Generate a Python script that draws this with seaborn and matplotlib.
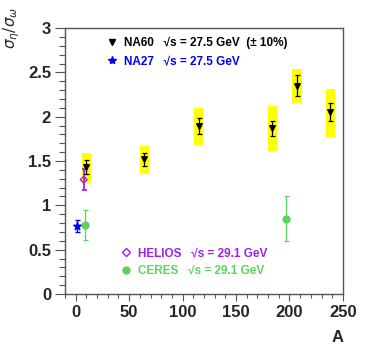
import numpy as np
import pandas as pd
import seaborn as sns
import matplotlib
matplotlib.use("Agg")
import matplotlib.pyplot as plt
from matplotlib.lines import Line2D
from matplotlib.ticker import MultipleLocator

sns.set_style("white")
plt.rcParams['font.family'] = ['Liberation Sans', 'DejaVu Sans']

# ---- data ----
na60_A = [10, 64, 115, 184, 207, 238]
na60_val = [1.43, 1.52, 1.90, 1.87, 2.35, 2.05]
na60_err = [0.08, 0.075, 0.09, 0.085, 0.12, 0.10]
na60_sys_lo = [1.25, 1.35, 1.68, 1.61, 2.15, 1.77]
na60_sys_hi = [1.59, 1.67, 2.10, 2.12, 2.54, 2.31]

na27_A = [1]
na27_val = [0.77]
na27_err = [0.07]

helios_A = [7.5]
helios_val = [1.29]
helios_err = [0.12]

ceres_A = [9, 197]
ceres_val = [0.78, 0.85]
ceres_err = [0.17, 0.25]

xticks = [0, 50, 100, 150, 200, 250]
yticks = [0, 0.5, 1, 1.5, 2, 2.5, 3]

c_na60 = 'black'
c_na27 = '#0000ff'
c_helios = '#a020f0'
c_ceres = '#5cd35c'
c_sys = '#ffff00'

fig = plt.figure(figsize=(3.66, 3.51), dpi=100)
ax = fig.add_axes([0.1776, 0.1624, 0.937 - 0.1776, 0.920 - 0.1624])

# systematic boxes
df_sys = pd.DataFrame({'A': na60_A, 'lo': na60_sys_lo, 'hi': na60_sys_hi})
ax.bar(df_sys['A'], df_sys['hi'] - df_sys['lo'], bottom=df_sys['lo'],
       width=8.5, color=c_sys, edgecolor='none', zorder=1)

def draw(A, v, e, color, marker, ms, mfc, zorder=3, lw=1.0):
    df = pd.DataFrame({'A': A, 'v': v})
    ax.errorbar(A, v, yerr=e, fmt='none', ecolor=color, elinewidth=lw,
                capsize=1.8, capthick=lw, zorder=zorder)
    sns.scatterplot(data=df, x='A', y='v', ax=ax, marker=marker, s=ms,
                    color=mfc, edgecolor=color, linewidth=1.0, zorder=zorder + 1,
                    legend=False)

draw(ceres_A, ceres_val, ceres_err, c_ceres, 'o', 24, c_ceres, lw=0.9)
draw(helios_A, helios_val, helios_err, c_helios, 'D', 12, 'none', lw=1.3)
draw(na27_A, na27_val, na27_err, c_na27, '*', 32, c_na27, lw=1.0)
draw(na60_A, na60_val, na60_err, c_na60, 'v', 16, c_na60, lw=0.9)

ax.set_xlim(-10, 250)
ax.set_ylim(0, 3)
ax.set_xticks(xticks)
ax.set_yticks(yticks)
ax.set_yticklabels(['0', '0.5', '1', '1.5', '2', '2.5', '3'])
ax.xaxis.set_minor_locator(MultipleLocator(10))
ax.yaxis.set_minor_locator(MultipleLocator(0.1))
ax.tick_params(axis='both', which='both', bottom=True, left=True,
               top=False, right=False)
ax.tick_params(axis='both', which='major', direction='out', length=7, width=0.8,
               color='#555555', labelsize=12, pad=3)
ax.tick_params(axis='both', which='minor', direction='out', length=4, width=0.8,
               color='#555555')
ax.tick_params(axis='x', which='major', length=5)
ax.tick_params(axis='x', which='minor', length=3)
for lab in ax.get_xticklabels() + ax.get_yticklabels():
    lab.set_fontweight('bold')
for s in ax.spines.values():
    s.set_color('#555555')
    s.set_linewidth(1.0)
ax.set_xlabel('')
ax.set_ylabel('')

fig.text(337.7 / 366, 1 - 337 / 351, 'A', fontsize=12, fontweight='bold',
         ha='center', va='center')
fig.text(12 / 366, 1 - 7 / 351, r'$\sigma_{\eta}/\sigma_{\omega}$', fontsize=11,
         rotation=90, ha='center', va='top')

h1 = [Line2D([], [], ls='none', marker='v', color=c_na60, ms=5),
      Line2D([], [], ls='none', marker='*', color=c_na27, ms=6)]
l1 = ['NA60   \u221as = 27.5 GeV  (\u00b1 10%)', 'NA27   \u221as = 27.5 GeV']
leg1 = ax.legend(h1, l1, loc='upper left', bbox_to_anchor=(0.147, 0.966),
                 frameon=False, borderpad=0, borderaxespad=0, handlelength=1.0,
                 handletextpad=0.55, labelspacing=0.5,
                 prop={'size': 8.5, 'weight': 'bold'},
                 labelcolor=[c_na60, c_na27])
ax.add_artist(leg1)

h2 = [Line2D([], [], ls='none', marker='D', mfc='none', mec=c_helios, ms=4),
      Line2D([], [], ls='none', marker='o', color=c_ceres, ms=5)]
l2 = ['HELIOS   \u221as = 29.1 GeV', 'CERES   \u221as = 29.1 GeV']
ax.legend(h2, l2, loc='upper left', bbox_to_anchor=(0.197, 0.176),
          frameon=False, borderpad=0, borderaxespad=0, handlelength=1.0,
          handletextpad=0.55, labelspacing=0.5,
          prop={'size': 8.5, 'weight': 'bold'},
          labelcolor=[c_helios, c_ceres])

fig.savefig('out.png', dpi=100)
